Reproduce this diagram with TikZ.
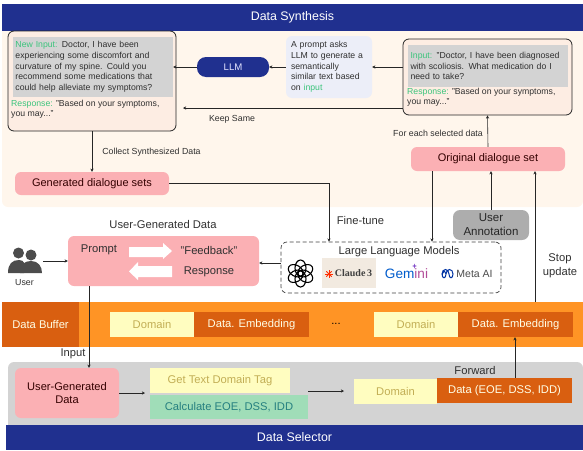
\documentclass[tikz,border=0pt]{standalone}
\usepackage{fontspec}
\setmainfont{Liberation Sans}
\newfontfamily\claudefont{Liberation Serif}
\usetikzlibrary{arrows.meta,shapes.geometric}
\definecolor{navyband}{HTML}{20308F}
\definecolor{creambg}{HTML}{FFF6EC}
\definecolor{peachbox}{HTML}{FDEDE3}
\definecolor{grayblock}{HTML}{D3D3D3}
\definecolor{pinkbox}{HTML}{FBB0B4}
\definecolor{lilacbox}{HTML}{ECEEF8}
\definecolor{orangeband}{HTML}{FF9425}
\definecolor{darkorange}{HTML}{D95F10}
\definecolor{paleyellow}{HTML}{FFFDC0}
\definecolor{domaintext}{HTML}{C2AE55}
\definecolor{palegreen}{HTML}{A0DDB8}
\definecolor{greenlabel}{HTML}{3CC47C}
\definecolor{inktext}{HTML}{303030}
\newcommand{\fsz}[1]{\fontsize{#1}{\the\dimexpr 1.23\dimexpr#1pt\relax\relax}\selectfont}
\tikzset{
  box/.style = {inner sep=0pt, align=center, text=inktext},
  band/.style = {box, fill=navyband, text=white, font=\fsz{12.4}},
  pinknode/.style = {box, fill=pinkbox, rounded corners=6pt, font=\fsz{11}, text=black!80!red},
  dialog/.style = {draw=black!85, line width=0.8pt, fill=peachbox, rounded corners=6pt},
  graytext/.style = {inner sep=0pt, fill=grayblock, align=left, text=inktext, font=\fsz{8.7}},
  resptext/.style = {inner sep=0pt, align=left, text=inktext, font=\fsz{8.7}},
  lbl/.style = {inner sep=0pt, align=center, text=inktext, font=\fsz{8.8}},
  biglbl/.style = {lbl, font=\fsz{11.2}},
  domaincell/.style = {box, fill=paleyellow, text=domaintext, font=\fsz{11.2}},
  embed/.style = {box, fill=darkorange, text=white!90!yellow, font=\fsz{11.2}},
  arr/.style = {draw=black!85, line width=0.6pt, -{Stealth[length=3.2pt,width=3.2pt]}},
}

\begin{document}
\begin{tikzpicture}[x=1pt,y=-1pt]
 \useasboundingbox (0,0) rectangle (583,450);

 % background bands
 \fill[creambg, rounded corners=6pt] (2,25) rectangle (583,207);
 \node[band, minimum width=581pt, minimum height=27pt] (synth) at (292.5,17.5) {Data Synthesis};
 \node[box, fill=orangeband, minimum width=581pt, minimum height=45pt] (buffer) at (292.5,324.5) {};
 \fill[grayblock, rounded corners=6pt] (8,362) rectangle (583,432);
 \node[band, minimum width=577pt, minimum height=25pt] (selector) at (294.5,437.5) {Data Selector};

 % synthesis part
 \node[dialog, minimum width=168pt, minimum height=100pt] (newdlg) at (92,81) {};
 \node[graytext, minimum width=160pt, minimum height=60pt, text width=155pt, inner xsep=2.5pt] (newinput) at (93,67)
   {\textcolor{greenlabel}{New Input:} Doctor, I have been\\experiencing some discomfort and\\curvature of my spine. Could you\\recommend some medications that\\could help alleviate my symptoms?};
 \node[resptext, anchor=north west] (newresp) at (11,99.5)
   {\textcolor{greenlabel}{Response:} "Based on your symptoms,\\you may..."};
 \node[box, fill=navyband, text=white!90!blue, rounded corners=9pt, minimum width=72pt, minimum height=20pt, font=\fsz{9.6}] (llm) at (233,67) {LLM};
 \node[box, fill=lilacbox, rounded corners=6pt, minimum width=86pt, minimum height=62pt, text width=76pt, align=left, font=\fsz{8.7}] (ask) at (329,67)
   {A prompt asks\\LLM to generate a\\semantically\\similar text based\\on \textcolor{greenlabel}{input}};
 \node[dialog, minimum width=169pt, minimum height=76pt] (origdlg) at (487.5,77) {};
 \node[graytext, minimum width=160pt, minimum height=42pt, text width=155pt, inner xsep=2.5pt] (origin) at (488,66)
   {\textcolor{greenlabel}{Input:} "Doctor, I have been diagnosed\\with scoliosis. What medication do I\\need to take?};
 \node[resptext, anchor=north west] (origresp) at (407,87.5)
   {\textcolor{greenlabel}{Response:} "Based on your symptoms,\\you may..."};
 \node[pinknode, minimum width=154pt, minimum height=24pt] (orig) at (488,159) {Original dialogue set};
 \node[pinknode, minimum width=154pt, minimum height=23pt] (gen) at (92,183.5) {Generated dialogue sets};
 \node[lbl] (keeplbl) at (232,119) {Keep Same};
 \node[lbl] (collbl) at (151.5,152) {Collect Synthesized Data};
 \node[lbl] (forlbl) at (438,133) {For each selected data};
 \coordinate (keepend) at (183,108);

 \draw[arr] (ask.west) -- (llm.east);
 \draw[arr] (llm.west) -- (newinput.east);
 \draw[arr] (ask.east -| origdlg.west) -- (ask.east);
 \draw[arr] (origdlg.west |- keepend) -- (keepend);
 \draw[arr] (newdlg.south) -- (gen.north);
 \draw[arr] (orig.north) -- (origdlg.south);

 % models
 \node[box, draw=black!75, dash pattern=on 4pt off 2.5pt, line width=0.7pt, fill=white, rounded corners=6pt, minimum width=220pt, minimum height=51pt] (models) at (391,267.5) {};
 \node[biglbl] (modellbl) at (399,252) {Large Language Models};
 \node[box, fill=black!5!creambg, minimum width=54pt, minimum height=30pt, font=\claudefont\bfseries\fsz{10}, text=black!75] (claude) at (349,273) {\hspace*{9pt}Claude\,3};
 \node[box, font=\fsz{13.6}] (gemini) at (406.5,274) {\textcolor{blue!55!cyan!80!black}{Gem}\textcolor{violet!60!pink}{ini}};
 \node[box, font=\fsz{10.5}, text=black!70] (meta) at (474.5,274) {Meta AI};
 \foreach \a in {0,60,...,300}
   \draw[black, line width=1.1pt, rotate around={\a:(300.5,273.5)}] (300.5,268) ellipse [x radius=5.5pt, y radius=8pt];
 \foreach \a in {0,45,...,315}
   \draw[red!65!orange, line width=0.9pt] (329,274) -- ++(\a:3.8pt);
 \draw[blue!55!black!80!cyan, line width=1pt] (446,274) .. controls (443,266) and (442,279) .. (442,274) .. controls (442,268) and (449,268) .. (449,274) .. controls (449,279) and (453,279) .. (453,274) .. controls (453,268) and (446,268) .. (446,274) .. controls (446,279) and (442,279) .. (442,274);
 \node[star, star points=4, star point ratio=3, fill=violet!60!blue!70, inner sep=0pt, minimum size=5pt] (spark) at (414.5,266) {};

 % user generated data
 \node[biglbl] (ugdlbl) at (163,224) {User-Generated Data};
 \node[pinknode, minimum width=191pt, minimum height=50pt] (prompt) at (163.5,261) {};
 \node[biglbl] (promptlbl) at (99,250) {Prompt};
 \node[biglbl] (feedback) at (209,250) {"Feedback"};
 \node[biglbl] (resplbl) at (209,272) {Response};
 \fill[white] (129,247) -- (163,247) -- (163,243) -- (172,251) -- (163,259) -- (163,257) -- (129,257) -- cycle;
 \fill[white] (172,266) -- (138,266) -- (138,262) -- (129,271.5) -- (138,280) -- (138,277) -- (172,277) -- cycle;
 \node[lbl] (userlbl) at (24.5,283) {User};

 % user icon
 \fill[black!70] (8,273) .. controls (8,264) and (12,260) .. (19,260) .. controls (24,260) and (27,264) .. (24,273) -- cycle;
 \fill[black!70] (20,273) .. controls (20,264) and (25,261) .. (31,261) .. controls (38,261) and (42,266) .. (42,273) -- cycle;
 \fill[black!70] (18.5,253) circle (5.5pt);
 \fill[black!70] (31,255) circle (5.5pt);
 \coordinate (userend) at (43,261);

 \draw[arr] (userend) -- (prompt.west |- userend);
 \draw[arr] (models.west |- 0,263) -- (prompt.east |- 0,263);

 % buffer
 \node[embed, minimum width=77pt, minimum height=45pt] (buflbl) at (40.5,324.5) {Data Buffer};
 \node[domaincell, minimum width=84pt, minimum height=25pt] (dom1) at (152,324.5) {Domain};
 \node[embed, minimum width=115pt, minimum height=25pt] (emb1) at (251.5,324.5) {Data. Embedding};
 \node[biglbl, text=black] (dots) at (336,324) {...};
 \node[domaincell, minimum width=84pt, minimum height=25pt] (dom2) at (416,324.5) {Domain};
 \node[embed, minimum width=115pt, minimum height=25pt] (emb2) at (515.5,324.5) {Data. Embedding};

 % selector
 \node[pinknode, minimum width=104pt, minimum height=50pt, font=\fsz{11.1}] (ugd) at (67,393) {User-Generated\\Data};
 \node[domaincell, minimum width=140pt, minimum height=25pt] (tag) at (220,380.5) {Get Text Domain Tag};
 \node[box, fill=palegreen, text=teal!70!gray, minimum width=158pt, minimum height=24pt, font=\fsz{11.2}] (calc) at (229,407) {Calculate EOE, DSS, IDD};
 \node[domaincell, minimum width=83pt, minimum height=25pt] (dom3) at (395.5,391.5) {Domain};
 \node[embed, minimum width=135pt, minimum height=25pt] (data) at (504.5,390.5) {Data (EOE, DSS, IDD)};
 \node[biglbl] (fwdlbl) at (475,370) {Forward};
 \node[biglbl] (inputlbl) at (73,354) {Input};

 \coordinate (ugdend) at (145,393);
 \coordinate (calcout) at (308,391);
 \coordinate (calcend) at (344,391);
 \draw[arr] (ugd.east |- ugdend) -- (ugdend);
 \draw[arr] (calcout) -- (calcend);
 \draw[arr] (data.north -| 515,0) -- (emb2.south -| 515,0);
 \draw[arr] (prompt.south -| 89,0) -- (ugd.north -| 89,0);

 % links across the parts
 \draw[arr] (gen.east) -- (329,183.5) -- (models.north -| 329,0);
 \node[biglbl] (finelbl) at (360.5,220) {Fine-tune};
 \draw[arr] (orig.south -| 432,0) -- (models.north -| 432,0);
 \node[box, fill=black!32, rounded corners=7pt, minimum width=76pt, minimum height=30pt, font=\fsz{11.5}, text=black!85] (annot) at (491,225) {User\\Annotation};
 \draw[arr] (annot.north) -- (orig.south -| annot.north);
 \draw[arr] (buffer.north -| 535,0) -- (orig.south -| 535,0);
 \node[biglbl] (stoplbl) at (560,265.5) {Stop\\update};
\end{tikzpicture}
\end{document}
